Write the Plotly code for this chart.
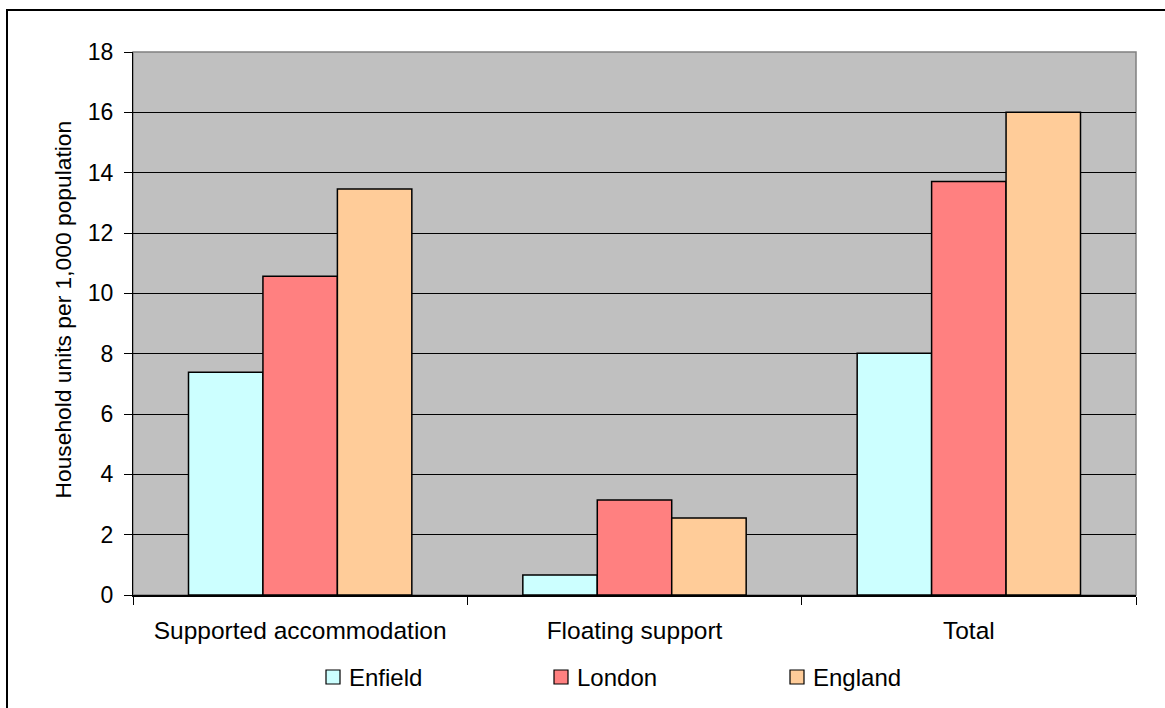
import plotly.graph_objects as go

# Data
categories = ["Supported accommodation", "Floating support", "Total"]
series_names = ["Enfield", "London", "England"]
enfield = [7.38, 0.66, 8.01]
london = [10.57, 3.15, 13.71]
england = [13.46, 2.55, 16.0]
series_values = [enfield, london, england]
colors = ["#CCFFFF", "#FF8080", "#FFCC99"]
y_ticks = [0, 2, 4, 6, 8, 10, 12, 14, 16, 18]
y_title = "Household units per 1,000 population"

W, H = 1165, 708
ML, MR, MT, MB = 133, 29, 52, 113
PW, PH = W - ML - MR, H - MT - MB
FONT = "Liberation Sans, Arial, sans-serif"


def px_x(x):
    return (x - ML) / PW


def px_y(y):
    return (H - MB - y) / PH


fig = go.Figure()
for name, vals, col in zip(series_names, series_values, colors):
    fig.add_trace(go.Bar(
        x=categories, y=vals, name=name,
        marker=dict(color=col, line=dict(color="#000000", width=1.5)),
        showlegend=False,
    ))

shapes = [
    # plot area frame
    dict(type="rect", xref="paper", yref="paper", x0=0, x1=1, y0=0, y1=1,
         line=dict(color="#808080", width=1.5), layer="below"),
    # outer chart border
    dict(type="rect", xref="paper", yref="paper",
         x0=px_x(7), x1=px_x(1175), y0=px_y(720), y1=px_y(10),
         line=dict(color="#000000", width=2)),
]

annotations = [
    # vertical axis title
    dict(text=y_title, xref="paper", yref="paper",
         x=px_x(62.5), y=px_y(310), xanchor="center", yanchor="middle",
         textangle=-90, showarrow=False,
         font=dict(family=FONT, size=22.8, color="#000000")),
]

# legend row: swatch + label per series
legend_sq_x = [326, 554, 790]
for name, col, sx in zip(series_names, colors, legend_sq_x):
    shapes.append(dict(type="rect", xref="paper", yref="paper",
                       x0=px_x(sx), x1=px_x(sx + 14),
                       y0=px_y(684), y1=px_y(670),
                       fillcolor=col, line=dict(color="#000000", width=1.2)))
    annotations.append(dict(text=name, xref="paper", yref="paper",
                            x=px_x(sx + 21), y=px_y(677),
                            xanchor="left", yanchor="middle", showarrow=False,
                            font=dict(family=FONT, size=24, color="#000000")))

fig.update_layout(
    width=W, height=H,
    margin=dict(l=ML, r=MR, t=MT, b=MB, autoexpand=False),
    paper_bgcolor="#FFFFFF",
    plot_bgcolor="#C0C0C0",
    barmode="group",
    bargap=0.332,
    bargroupgap=0,
    font=dict(family=FONT, color="#000000"),
    shapes=shapes,
    annotations=annotations,
    xaxis=dict(
        range=[-0.5, 2.5],
        tickson="boundaries",
        ticks="outside", ticklen=8, tickcolor="#000000", tickwidth=1,
        showline=True, linecolor="#000000", linewidth=1.5,
        showgrid=False,
        tickfont=dict(family=FONT, size=24.5, color="#000000"),
        ticklabelstandoff=13,
    ),
    yaxis=dict(
        range=[0, 18],
        tickvals=y_ticks,
        ticks="outside", ticklen=8, tickcolor="#000000", tickwidth=1,
        showline=True, linecolor="#000000", linewidth=1,
        showgrid=True, gridcolor="#000000", gridwidth=1,
        zeroline=False,
        tickfont=dict(family=FONT, size=23, color="#000000"),
        ticklabelstandoff=6,
    ),
)

fig.write_html("out.html")
